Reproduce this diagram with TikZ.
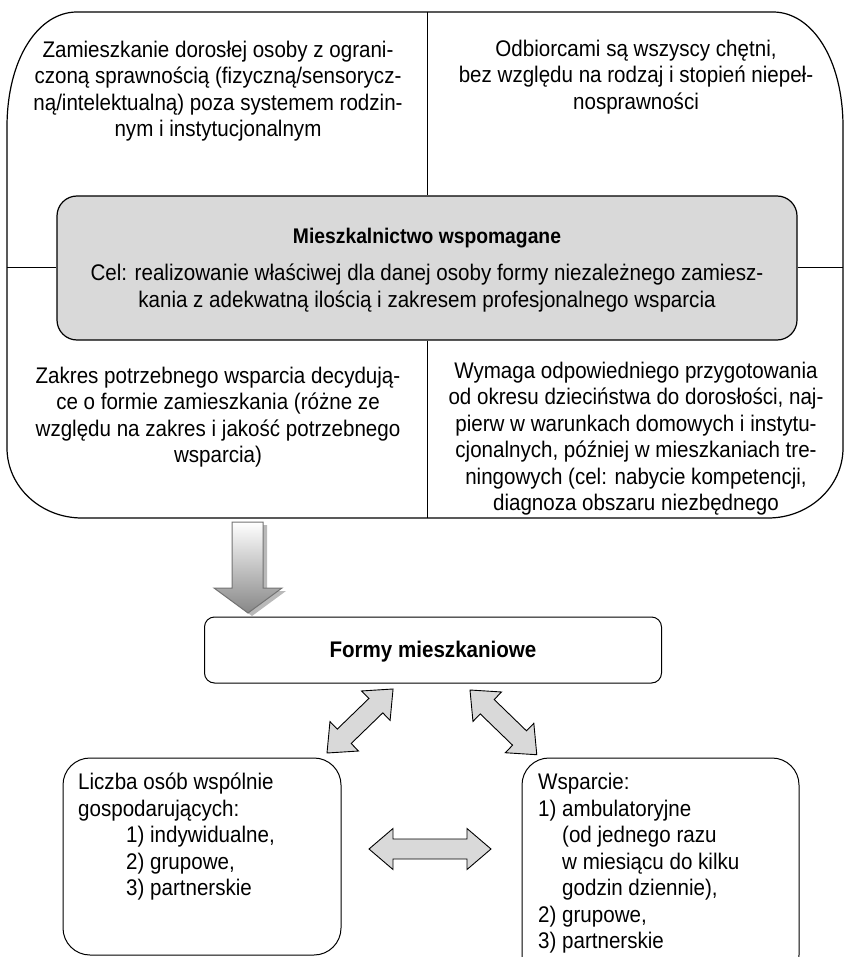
\documentclass[tikz,border=0pt]{standalone}
\usepackage{fontspec}
\setmainfont[FakeStretch=0.91]{Liberation Sans}
\definecolor{boxgray}{RGB}{217,217,217}
\definecolor{arrowedge}{RGB}{115,115,115}
\definecolor{arrowbot}{RGB}{135,135,135}
\definecolor{shadowgray}{RGB}{185,185,185}
\tikzset{
  txt/.style={font=\fontsize{22.6}{26.5}\selectfont, inner sep=0pt, align=center},
  ltxt/.style={font=\fontsize{22.6}{26.5}\selectfont, inner sep=0pt, align=left, anchor=north west},
  btxt/.style={font=\fontsize{22.6}{26.5}\selectfont\bfseries, inner sep=0pt},
  ttxt/.style={font=\fontsize{21.2}{26.5}\selectfont\bfseries, inner sep=0pt},
  frame/.style={draw, line width=1.2pt, inner sep=0pt},
  blockarrow/.style={draw=black, line width=0.9pt, fill=boxgray, line join=miter},
}
\newcommand\dblarr[4]{%
  \begin{scope}[shift={(#1,#2)}, rotate=#3]
    \draw[blockarrow] (0,0) -- (24,-20.5) -- (24,-10) -- (#4-24,-10) -- (#4-24,-20.5) -- (#4,0)
      -- (#4-24,20.5) -- (#4-24,10) -- (24,10) -- (24,20.5) -- cycle;
  \end{scope}}
\begin{document}
\begin{tikzpicture}[x=1pt,y=-1pt]
\useasboundingbox (0,0) rectangle (844,957);
\clip (0,0) rectangle (844,957);

% big frame (elliptical corners)
\node[inner sep=0pt, minimum width=836pt, minimum height=506pt] (big) at (425,265) {};
\draw[line width=1.2pt] (77,12) -- (773,12)
  .. controls (811.6,12) and (843,58.5) .. (843,127)
  -- (843,448)
  .. controls (843,486.6) and (809.4,518) .. (768,518)
  -- (82,518)
  .. controls (40.6,518) and (7,486.6) .. (7,448)
  -- (7,127)
  .. controls (7,58.5) and (38.4,12) .. (77,12) -- cycle;
\node[frame, fill=boxgray, rounded corners=20pt, minimum width=740pt, minimum height=144pt] (gbox) at (427,268) {};
\draw[line width=1pt] (gbox.north |- big.north) -- (gbox.north);
\draw[line width=1pt] (gbox.south) -- (gbox.south |- big.south);
\draw[line width=1pt] (big.west |- gbox.west) -- (gbox.west);
\draw[line width=1pt] (gbox.east) -- (big.east |- gbox.east);

\node[txt] (tl) at (218,91) {Zamieszkanie dorosłej osoby z ograni-\\czoną sprawnością (fizyczną/sensorycz-\\ną/intelektualną) poza systemem rodzin-\\nym i instytucjonalnym};
\node[txt] (tr) at (636,77) {Odbiorcami są wszyscy chętni,\\bez względu na rodzaj i stopień niepeł-\\nosprawności};
\node[ttxt] (title) at (427,238) {Mieszkalnictwo wspomagane};
\node[txt] (cel) at (427,288) {Cel: realizowanie właściwej dla danej osoby formy niezależnego zamiesz-\\kania z adekwatną ilością i zakresem profesjonalnego wsparcia};
\node[txt] (bl) at (218,417) {Zakres potrzebnego wsparcia decydują-\\ce o formie zamieszkania (różne ze\\względu na zakres i jakość potrzebnego\\wsparcia)};
\node[txt] (br) at (636,438.5) {Wymaga odpowiedniego przygotowania\\od okresu dzieciństwa do dorosłości, naj-\\pierw w warunkach domowych i instytu-\\cjonalnych, później w mieszkaniach tre-\\ningowych (cel: nabycie kompetencji,\\diagnoza obszaru niezbędnego};

% down arrow
\path[fill=shadowgray] (236,525) -- (267,525) -- (267,591) -- (286,591) -- (252,616) -- (218,591) -- (236,591) -- cycle;
\draw[draw=arrowedge, line width=1pt, top color=white, bottom color=arrowbot, line join=miter]
  (232,522) -- (263,522) -- (263,588) -- (282,588) -- (248,613) -- (214,588) -- (232,588) -- cycle;

% Formy box
\node[frame, line width=1pt, rounded corners=10pt, minimum width=457pt, minimum height=66pt] (formy) at (433,650) {};
\node[btxt] (formyt) at (433,652) {Formy mieszkaniowe};

% bottom boxes
\node[frame, line width=1pt, rounded corners=27pt, minimum width=278pt, minimum height=197pt] (lbox) at (202,856.5) {};
\node[frame, line width=1pt, rounded corners=27pt, minimum width=277pt, minimum height=224pt] (rbox) at (660.5,870) {};
\node[ltxt] (ltext) at (78,773) {Liczba osób wspólnie\\gospodarujących:\\\hspace*{48pt}1) indywidualne,\\\hspace*{48pt}2) grupowe,\\\hspace*{48pt}3) partnerskie};
\node[ltxt] (rtext) at (538,773) {Wsparcie:\\1) ambulatoryjne\\\phantom{1) }(od jednego razu\\\phantom{1) }w miesiącu do kilku\\\phantom{1) }godzin dziennie),\\2) grupowe,\\3) partnerskie};

% double arrows
\dblarr{327}{753}{44.1}{92}
\dblarr{470}{690}{-44.1}{93}
\dblarr{369}{849}{0}{122}
\end{tikzpicture}
\end{document}
